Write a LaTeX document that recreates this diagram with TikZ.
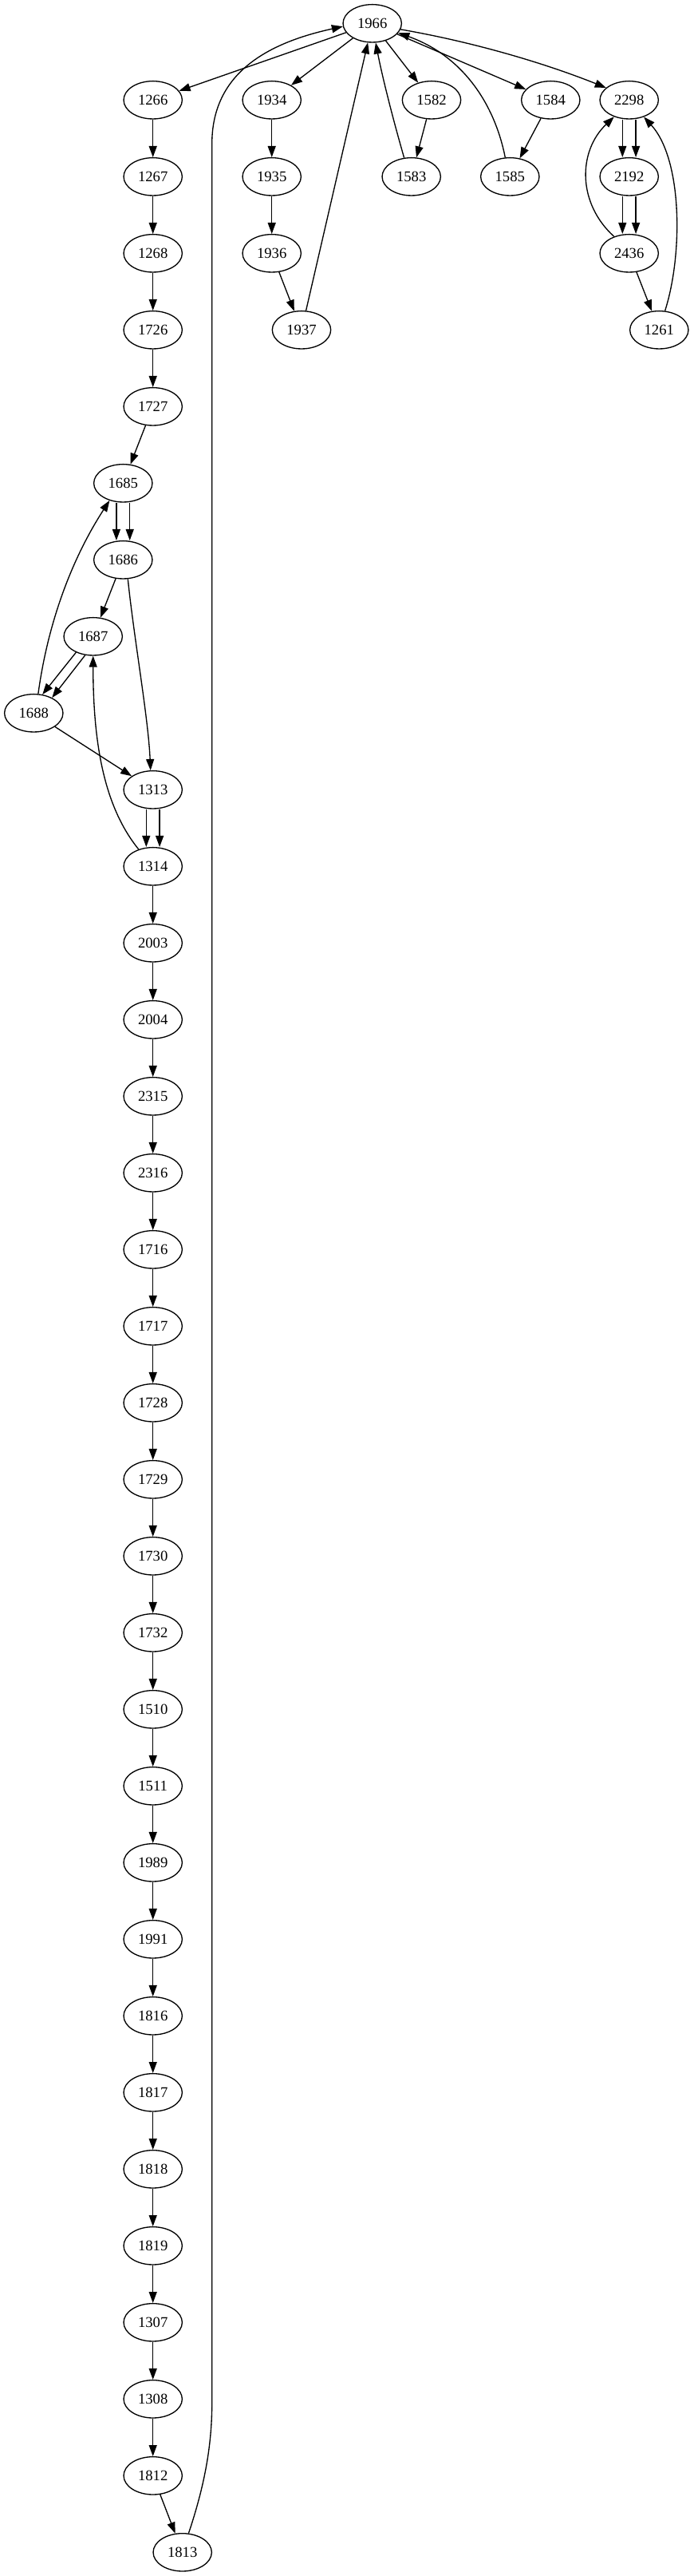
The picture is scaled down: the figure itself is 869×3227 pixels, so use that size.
\documentclass[tikz,border=0pt]{standalone}
\usepackage{fontspec}
\setmainfont{Liberation Serif}
\usetikzlibrary{shapes.geometric,arrows.meta}
\begin{document}
\begin{tikzpicture}[x=0.75pt,y=-0.75pt,
  gnode/.style={ellipse,draw,line width=1pt,minimum width=55pt,minimum height=35.5pt,inner sep=0pt,font=\fontsize{14}{16}\selectfont},
  edge/.style={draw,line width=1pt,-{Triangle[length=10.5pt,width=7.5pt]}}]
\useasboundingbox (0,0) rectangle (869,3227);
% top
\node[gnode] (n1966) at (466.7,29.3) {1966};
% row 1
\node[gnode] (n1266) at (191.7,125.3) {1266};
\node[gnode] (n1934) at (340.7,125.3) {1934};
\node[gnode] (n1582) at (541,125.3) {1582};
\node[gnode] (n1584) at (690.3,125.3) {1584};
\node[gnode] (n2298) at (788.7,125.3) {2298};
% row 2
\node[gnode] (n1267) at (191.7,221.3) {1267};
\node[gnode] (n1935) at (340.7,221.3) {1935};
\node[gnode] (n1583) at (515.7,221.3) {1583};
\node[gnode] (n1585) at (639.3,221.3) {1585};
\node[gnode] (n2192) at (788.7,221.3) {2192};
% row 3
\node[gnode] (n1268) at (191.7,317.3) {1268};
\node[gnode] (n1936) at (340.7,317.3) {1936};
\node[gnode] (n2436) at (788.7,317.3) {2436};
% row 4
\node[gnode] (n1726) at (191.7,413.3) {1726};
\node[gnode] (n1937) at (378,413.3) {1937};
\node[gnode] (n1261) at (826.3,413.3) {1261};
% left column
\node[gnode] (n1727) at (191.7,509.3) {1727};
\node[gnode] (n1685) at (154.3,605.3) {1685};
\node[gnode] (n1686) at (154.3,701.3) {1686};
\node[gnode] (n1687) at (116.7,797.3) {1687};
\node[gnode] (n1688) at (42.3,893.3) {1688};
\node[gnode] (n1313) at (191.7,989.3) {1313};
\node[gnode] (n1314) at (191.7,1085.3) {1314};
\foreach \lab [count=\i from 12] in {2003,2004,2315,2316,1716,1717,1728,1729,1730,1732,1510,1511,1989,1991,1816,1817,1818,1819,1307,1308,1812}
  {\node[gnode] (n\lab) at (191.7,29.3+96*\i) {\lab};}
\node[gnode] (n1813) at (228.7,3197.3) {1813};

% edges from 1966
\draw[edge] (n1966) -- (n1266);
\draw[edge] (n1966) -- (n1934);
\draw[edge] (n1966) -- (n1582);
\draw[edge] (n1966) -- (n1584);
\draw[edge] (n1966.348) .. controls (590,52) and (680,78) .. (n2298.152);

% chains
\foreach \a/\b in {1266/1267,1267/1268,1268/1726,1726/1727,1727/1685,
  1314/2003,2003/2004,2004/2315,2315/2316,2316/1716,1716/1717,1717/1728,1728/1729,1729/1730,1730/1732,1732/1510,1510/1511,1511/1989,1989/1991,1991/1816,1816/1817,1817/1818,1818/1819,1819/1307,1307/1308,1308/1812,1812/1813,
  1934/1935,1935/1936,1936/1937,1937/1966,1582/1583,1584/1585,2436/1261,1686/1687,1688/1313}
  {\draw[edge] (n\a) -- (n\b);}

% double edges
\foreach \a/\b in {1685/1686,1313/1314,2298/2192,2192/2436}
  {\draw[edge] ([xshift=-6.3pt]n\a.south) -- ([xshift=-6.3pt]n\b.north);
   \draw[edge] ([xshift=6.3pt]n\a.south) -- ([xshift=6.3pt]n\b.north);}
\draw[edge] (n1687.223) -- (n1688.65);
\draw[edge] (n1687.247) -- (n1688.40);

% curved back edges
\draw[edge] (n1583.111) .. controls (490,140) and (478,90) .. (n1966.280);
\draw[edge] (n1585.104) .. controls (620,130) and (580,70) .. (n1966.340);
\draw[edge] (n2436.132) .. controls (724,255) and (724,190) .. (n2298.228);
\draw[edge] (n1261.73) .. controls (856,320) and (856,200) .. (n2298.311);
\draw[edge] (n1686.284) .. controls (168,800) and (186,900) .. (n1313.97);
\draw[edge] (n1688.77) .. controls (60,780) and (90,700) .. (n1685.232);
\draw[edge] (n1314.130) .. controls (130,1010) and (116.7,930) .. (n1687.270);
\coordinate (lowbend) at (265.7,3010);
\coordinate (highbend) at (265.7,180);
\draw[edge] (n1813.72) .. controls (256,3115) and (265.7,3065) .. (lowbend) -- (highbend) .. controls (265.7,95) and (330,55) .. (n1966.186);
\end{tikzpicture}
\end{document}
